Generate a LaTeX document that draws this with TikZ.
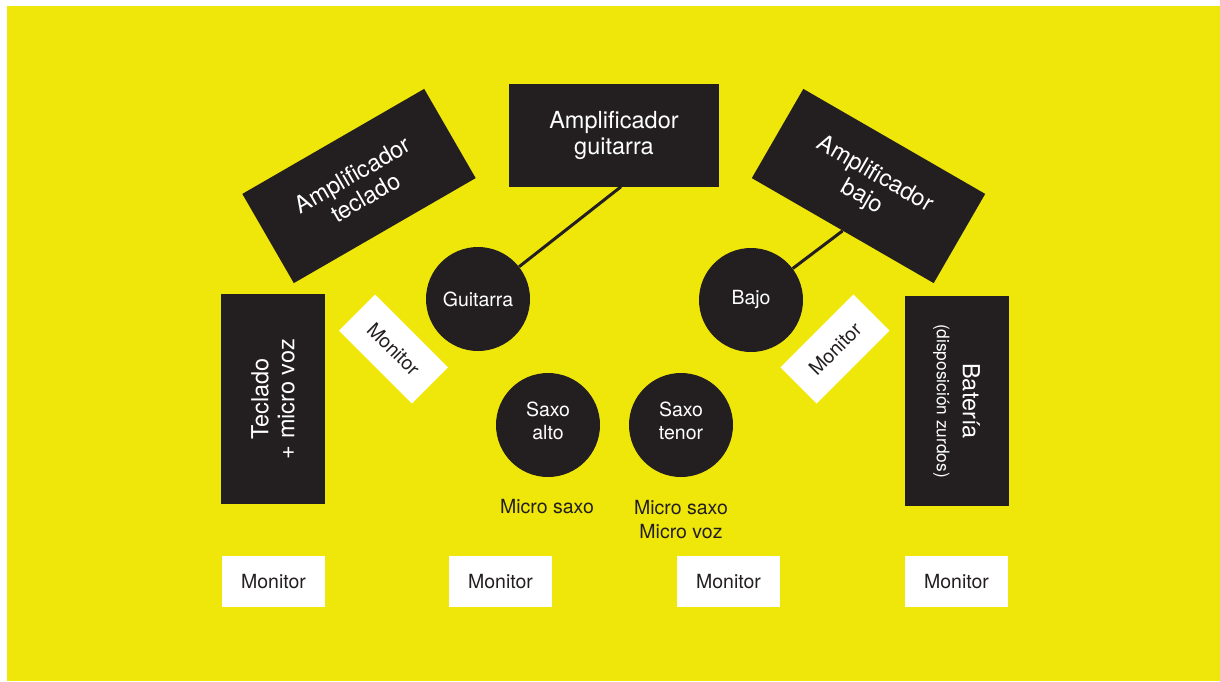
\documentclass[tikz,border=0pt]{standalone}
\usepackage{fontspec}
\setmainfont{TeX Gyre Heros}
\definecolor{stageyellow}{HTML}{F0E70A}
\definecolor{darkbox}{HTML}{231F20}
\begin{document}
\begin{tikzpicture}[x=1pt,y=1pt,
  darkrect/.style={fill=darkbox,draw=none,text=white,inner sep=0pt,align=center,font=\fontsize{23.5}{26}\selectfont},
  amprect/.style={darkrect,minimum width=210pt,minimum height=103pt},
  sidebox/.style={darkrect,minimum width=210pt,minimum height=104pt},
  player/.style={circle,fill=darkbox,draw=none,text=white,minimum size=104pt,inner sep=0pt,align=center,font=\fontsize{19.5}{23}\selectfont},
  monbox/.style={fill=white,draw=none,text=darkbox,minimum width=103pt,minimum height=51pt,inner sep=0pt,font=\fontsize{19.5}{23}\selectfont},
  mic/.style={text=darkbox,align=center,inner sep=0pt,font=\fontsize{19.5}{24}\selectfont},
  cable/.style={draw=darkbox,line width=3pt}]
\useasboundingbox (0,0) rectangle (1220,-681);
\fill[white] (0,0) rectangle (1220,-681);
\fill[stageyellow] (7,-6) rectangle (1220,-681);

% amplifiers
\node[amprect] (gamp) at (614,-135) {Amplificador\\guitarra};
\node[amprect,rotate=30] (kamp) at (359,-186) {Amplificador\\teclado};
\node[amprect,rotate=-30] (bamp) at (868.5,-186) {Amplificador\\bajo};

% side instruments
\node[sidebox,rotate=90] (tecl) at (273,-399) {Teclado\\+ micro voz};
\node[sidebox,rotate=-90] (bat) at (956.5,-401) {Batería\\{\fontsize{17.3}{22}\selectfont(disposición zurdos)}};

% players
\node[player] (guit) at (478,-299) {Guitarra};
\node[player] (bajo) at (751,-300) {Bajo};
\node[player,text depth=8pt] (salto) at (548,-425) {Saxo\\alto};
\node[player,text depth=8pt] (stenor) at (681,-425) {Saxo\\tenor};

% cables
\draw[cable] ([xshift=7pt]gamp.south) -- (guit);
\draw[cable] (bamp.south) -- (bajo);

% angled monitors
\node[monbox,rotate=-45] (monl) at (393.5,-349) {Monitor};
\node[monbox,rotate=45] (monr) at (835,-349) {Monitor};

% mic labels
\node[mic] (mic1) at (547,-507) {Micro saxo};
\node[mic,anchor=north] (mic2) at (681,-500) {Micro saxo\\Micro voz};

% floor monitors
\node[monbox] (mon1) at (273.5,-581.5) {Monitor};
\node[monbox] (mon2) at (500.5,-581.5) {Monitor};
\node[monbox] (mon3) at (728.5,-581.5) {Monitor};
\node[monbox] (mon4) at (956.5,-581.5) {Monitor};
\end{tikzpicture}
\end{document}
